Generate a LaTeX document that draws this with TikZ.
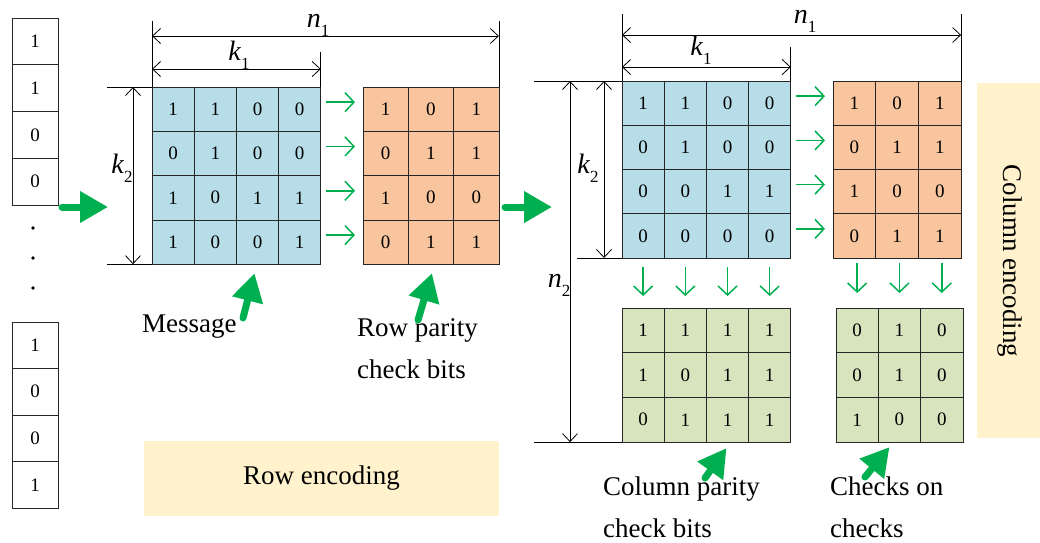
\documentclass[tikz,border=0pt]{standalone}
\usepackage{fontspec}
\setmainfont{Liberation Serif}
\usetikzlibrary{arrows.meta,calc}

\definecolor{cellblue}{RGB}{183,221,232}
\definecolor{cellorange}{RGB}{248,197,158}
\definecolor{cellgreen}{RGB}{216,228,189}
\definecolor{boxyellow}{RGB}{255,242,204}
\definecolor{arrowgreen}{RGB}{0,176,80}

% grid of bit cells: name, left, top, columns, cell width, cell height, fill, values
\newcommand\bitgrid[8]{%
  \foreach \v [count=\k from 0] in {#8} {%
    \pgfmathtruncatemacro\rr{div(\k,#4)+1}%
    \pgfmathtruncatemacro\cc{mod(\k,#4)+1}%
    \node[cell,fill=#7,minimum width=#5pt,minimum height=#6pt]
      (#1-\rr-\cc) at ({#2+(\cc-0.5)*#5},{#3+(\rr-0.5)*#6}) {\v};
  }}
% italic symbol with lowered index
\newcommand\dimsym[2]{\textit{#1}\raisebox{-0.32em}{\fontsize{17}{17}\selectfont #2}}

\begin{document}
\begin{tikzpicture}[x=1pt,y=-1pt,
  cell/.style={draw=black!85,line width=0.7pt,inner sep=0pt,outer sep=0pt,
               font=\fontsize{19}{19}\selectfont},
  extline/.style={line width=0.8pt},
  dimline/.style={line width=0.8pt,
    {Straight Barb[length=8pt,width=15pt]}-{Straight Barb[length=8pt,width=15pt]}},
  rowarrow/.style={arrowgreen,line width=1.5pt,-{Straight Barb[length=9pt,width=19pt]}},
  bigarrow/.style={arrowgreen,line width=7pt,line cap=round,
    -{Triangle[length=28pt,width=30pt]}},
  caption/.style={font=\fontsize{27}{42}\selectfont,align=left,inner sep=0pt},
  dimlabel/.style={font=\fontsize{28}{28}\selectfont,inner sep=0pt},
  dot/.style={circle,fill=black,inner sep=1.4pt}]
\useasboundingbox (0,0) rectangle (1040,542);

% encoding backgrounds
\node[fill=boxyellow,minimum width=355pt,minimum height=75pt,inner sep=0pt,
      font=\fontsize{27}{27}\selectfont] (rowenc) at (321.5,478.5) {Row encoding};
\node[fill=boxyellow,minimum width=63pt,minimum height=355pt,inner sep=0pt] (colbox) at (1008.5,260.5) {};
\node[rotate=-90,font=\fontsize{27}{27}\selectfont] (colenc) at (1010,261) {Column encoding};

% input bit column
\bitgrid{v}{12}{18}{1}{46}{46.75}{white}{1,1,0,0}
\bitgrid{u}{12}{322}{1}{46}{46.5}{white}{1,0,0,1}
\node[dot] (dot1) at (33,228) {};
\node[dot] (dot2) at (33,258) {};
\node[dot] (dot3) at (33,288) {};

% row encoding stage
\bitgrid{m1}{152}{87}{4}{42.2}{44.3}{cellblue}{1,1,0,0,0,1,0,0,1,0,1,1,1,0,0,1}
\bitgrid{p1}{363}{87}{3}{45.3}{44.3}{cellorange}{1,0,1,0,1,1,1,0,0,0,1,1}

% column encoding stage
\bitgrid{m2}{622}{81}{4}{42.2}{44.25}{cellblue}{1,1,0,0,0,1,0,0,0,0,1,1,0,0,0,0}
\bitgrid{p2}{833}{81}{3}{42.7}{44.25}{cellorange}{1,0,1,0,1,1,1,0,0,0,1,1}
\bitgrid{c1}{622}{308}{4}{42.2}{44.7}{cellgreen}{1,1,1,1,1,0,1,1,0,1,1,1}
\bitgrid{c2}{836}{308}{3}{42.3}{44.7}{cellgreen}{0,1,0,0,1,0,1,0,0}

% dimensions, row stage
\draw[extline] (m1-1-1.north west) -- ++(0,-66);
\draw[extline] (m1-1-4.north east) -- ++(0,-35);
\draw[extline] (p1-1-3.north east) -- ++(0,-66);
\draw[extline] (m1-1-1.north west) -- ++(-45,0);
\draw[extline] (m1-4-1.south west) -- ++(-45,0);
\draw[dimline] ($(m1-1-1.north west)+(0,-18)$) -- ($(m1-1-4.north east)+(0,-18)$);
\draw[dimline] ($(m1-1-1.north west)+(0,-51)$) -- ($(p1-1-3.north east)+(0,-51)$);
\draw[dimline] ($(m1-1-1.north west)+(-19,0)$) -- ($(m1-4-1.south west)+(-19,0)$);
\node[dimlabel] (k1a) at (239,55) {\dimsym{k}{1}};
\node[dimlabel] (n1a) at (318,25) {\dimsym{n}{1}};
\node[dimlabel] (k2a) at (122,168) {\dimsym{k}{2}};

% dimensions, column stage
\draw[extline] (m2-1-1.north west) -- ++(0,-67);
\draw[extline] (m2-1-4.north east) -- ++(0,-34);
\draw[extline] (p2-1-3.north east) -- ++(0,-67);
\draw[extline] (m2-1-1.north west) -- ++(-88,0);
\draw[extline] (m2-4-1.south west) -- ++(-45,0);
\draw[extline] (c1-3-1.south west) -- ++(-88,0);
\draw[dimline] ($(m2-1-1.north west)+(0,-14)$) -- ($(m2-1-4.north east)+(0,-14)$);
\draw[dimline] ($(m2-1-1.north west)+(0,-46)$) -- ($(p2-1-3.north east)+(0,-46)$);
\draw[dimline] ($(m2-1-1.north west)+(-18,0)$) -- ($(m2-4-1.south west)+(-18,0)$);
\draw[dimline] ($(m2-1-1.north west)+(-52,0)$) -- ($(c1-3-1.south west)+(-52,0)$);
\node[dimlabel] (k1b) at (701,50) {\dimsym{k}{1}};
\node[dimlabel] (n1b) at (805,21) {\dimsym{n}{1}};
\node[dimlabel] (k2b) at (588,168) {\dimsym{k}{2}};
\node[dimlabel] (n2b) at (559,285) {\dimsym{n}{2}};

% parity arrows
\foreach \r in {1,...,4} {
  \draw[rowarrow] ([xshift=5pt,yshift=7pt]m1-\r-4.east) -- ([xshift=-8pt,yshift=7pt]p1-\r-1.west);
  \draw[rowarrow] ([xshift=5pt,yshift=7pt]m2-\r-4.east) -- ([xshift=-8pt,yshift=7pt]p2-\r-1.west);
}
\foreach \c in {1,...,4}
  \draw[rowarrow] ([yshift=-9pt]m2-4-\c.south) -- ([yshift=12pt]c1-1-\c.north);
\foreach \c in {1,...,3}
  \draw[rowarrow] ([yshift=-5pt]c2-1-\c.north |- p2-4-\c.south) -- ([yshift=15pt]c2-1-\c.north);

% captions
\node[caption,anchor=west] (msg) at (142,327) {Message};
\node[caption,anchor=west] (rpar) at (357,349) {Row parity\\check bits};
\node[caption,anchor=west] (cpar) at (603,507) {Column parity\\check bits};
\node[caption,anchor=west] (cchk) at (830,507) {Checks on\\checks};

% flow arrows
\coordinate (in1) at (62,207);
\coordinate (in1e) at (108,207);
\coordinate (in2) at (505,207);
\coordinate (in2e) at (552,207);
\draw[bigarrow] (in1) -- (in1e);
\draw[bigarrow] (in2) -- (in2e);

% pointers from captions
\coordinate (t1) at (243,318);
\coordinate (t2) at (418,320);
\coordinate (t3) at (705,478);
\coordinate (t4) at (865,477);
\draw[bigarrow] (t1) -- ([xshift=-3pt,yshift=-9pt]m1-4-3.south);
\draw[bigarrow] (t2) -- ([xshift=1pt,yshift=-9pt]p1-4-2.south);
\draw[bigarrow] (t3) -- ([xshift=-1pt,yshift=-6pt]c1-3-3.south);
\draw[bigarrow] (t4) -- ([xshift=-10pt,yshift=-5pt]c2-3-2.south);
\end{tikzpicture}
\end{document}
